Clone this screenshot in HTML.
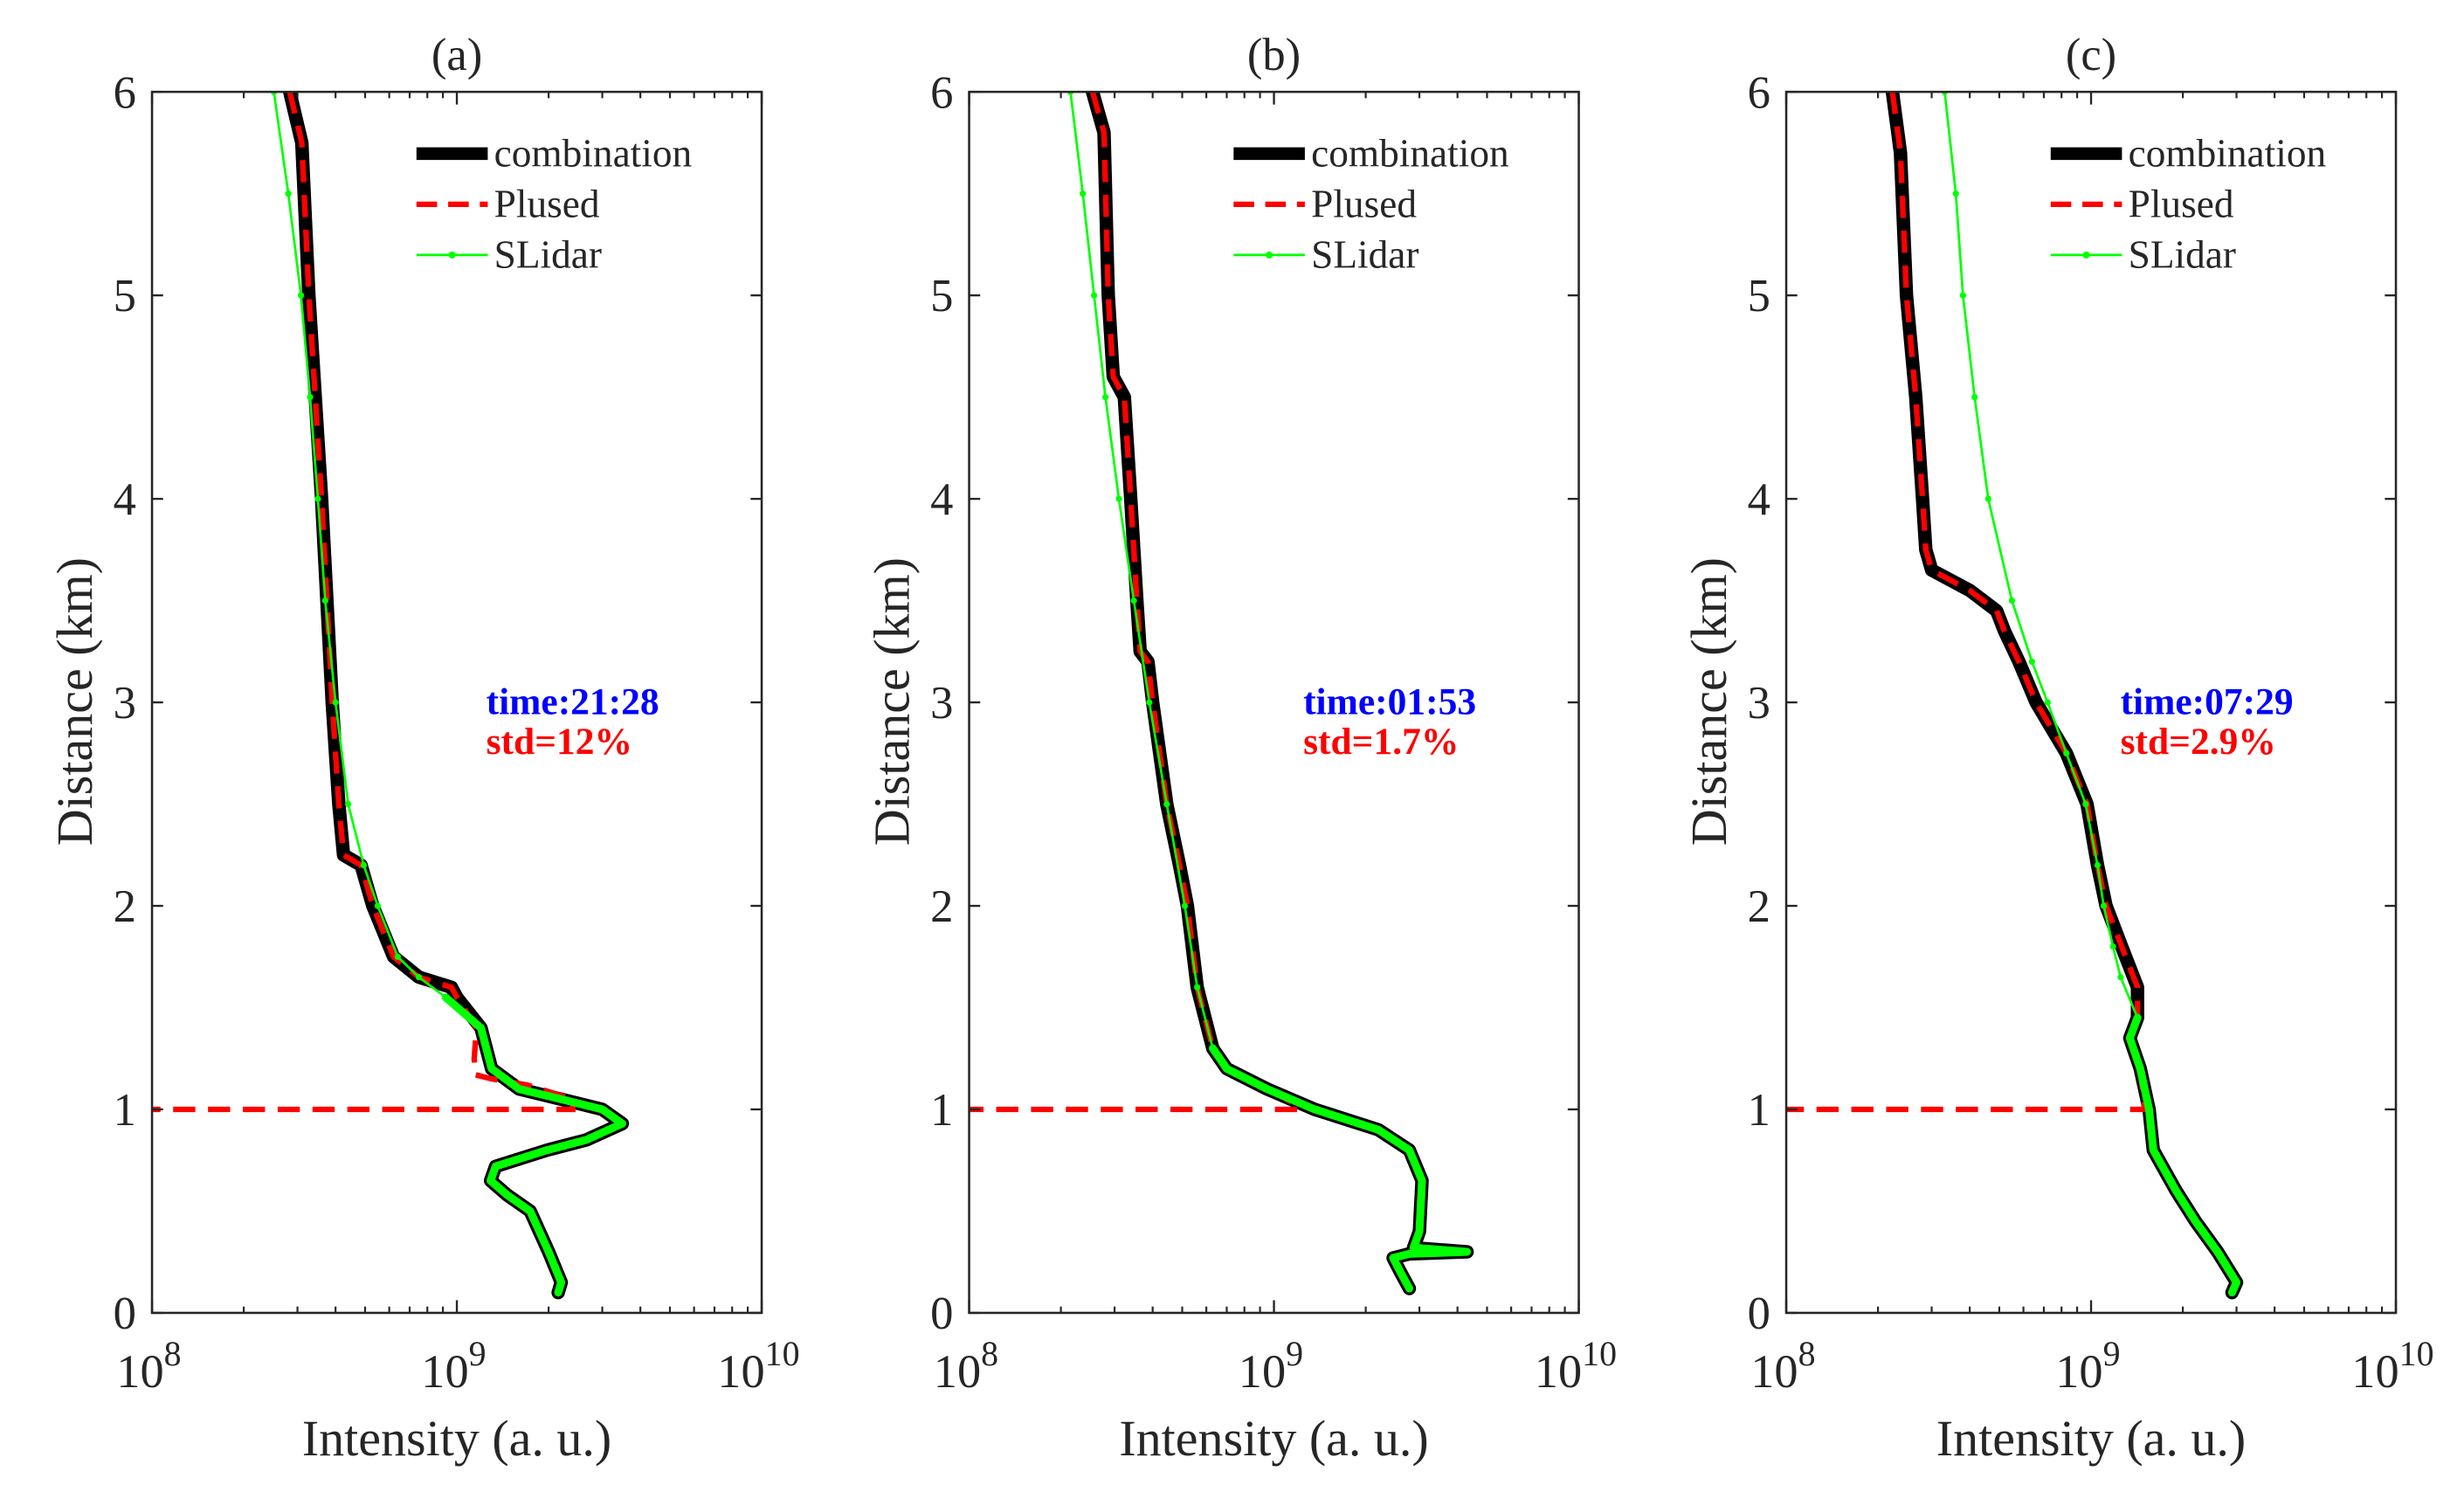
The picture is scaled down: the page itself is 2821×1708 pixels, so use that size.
<!DOCTYPE html>
<html><head><meta charset="utf-8"><style>
html,body{margin:0;padding:0;background:#fff;}
svg{display:block;}
text{font-family:"Liberation Serif",serif;fill:#262626;}
</style></head><body>
<svg id="fig" width="2821" height="1708" viewBox="0 0 1556 942.1" xmlns="http://www.w3.org/2000/svg"></svg>
<script>
// ---------- data (distance km, intensity a.u.) ----------
const titles = ["(a)", "(b)", "(c)"];
const timeLabels = ["time:21:28", "time:01:53", "time:07:29"];
const stdLabels = ["std=12%", "std=1.7%", "std=2.9%"];
const yTicks = [0,1,2,3,4,5,6];
const xMajorExp = [8,9,10];

const combA_d = [6.0,5.75,5.0,4.0,3.0,2.5,2.25,2.2,2.0,1.75,1.65,1.6,1.55,1.4,1.2,1.1,1.05,1.0,0.93,0.85,0.8,0.72,0.65,0.58,0.5,0.3,0.15,0.1];
const combA_v = [2.83e8,3.1e8,3.27e8,3.6e8,3.9e8,4.1e8,4.25e8,4.85e8,5.3e8,6.2e8,7.5e8,9.6e8,1.0e9,1.2e9,1.3e9,1.6e9,2.2e9,3.0e9,3.49e9,2.66e9,1.98e9,1.34e9,1.29e9,1.46e9,1.74e9,2.0e9,2.2e9,2.15e9];
const pulsA_d = [6.0,5.75,5.0,4.0,3.0,2.5,2.25,2.2,2.0,1.75,1.65,1.6,1.55,1.4,1.25,1.17,1.15,1.12,1.05,1.0,1.0];
const pulsA_v = [2.83e8,3.1e8,3.27e8,3.6e8,3.9e8,4.1e8,4.25e8,4.85e8,5.3e8,6.2e8,7.5e8,9.6e8,1.0e9,1.16e9,1.14e9,1.15e9,1.3e9,1.7e9,2.4e9,2.4e9,1e8];
const slidA_d = [6.0,5.5,5.0,4.5,4.0,3.5,3.0,2.5,2.2,2.0,1.75,1.65,1.55,1.4,1.2,1.1,1.05,1.0,0.93,0.85,0.8,0.72,0.65,0.58,0.5,0.3,0.15,0.1];
const slidA_v = [2.51e8,2.8e8,3.08e8,3.3e8,3.5e8,3.7e8,4.0e8,4.4e8,4.95e8,5.5e8,6.4e8,7.5e8,9.2e8,1.2e9,1.3e9,1.6e9,2.2e9,3.0e9,3.49e9,2.66e9,1.98e9,1.34e9,1.29e9,1.46e9,1.74e9,2.0e9,2.2e9,2.15e9];

const combB_d = [6.0,5.8,5.0,4.6,4.5,4.0,3.5,3.25,3.2,3.0,2.5,2.2,2.0,1.6,1.3,1.2,1.1,1.0,0.9,0.8,0.65,0.4,0.32,0.3,0.29,0.27,0.2,0.12];
const combB_v = [2.54e8,2.77e8,2.86e8,2.97e8,3.23e8,3.39e8,3.55e8,3.64e8,3.86e8,4.0e8,4.45e8,4.9e8,5.2e8,5.6e8,6.3e8,7.0e8,9.5e8,1.36e9,2.2e9,2.78e9,3.06e9,3.0e9,2.87e9,4.3e9,2.78e9,2.46e9,2.6e9,2.78e9];
const pulsB_d = [6.0,5.8,5.0,4.6,4.5,4.0,3.5,3.25,3.2,3.0,2.5,2.2,2.0,1.6,1.3,1.2,1.1,1.02,1.0,1.0];
const pulsB_v = [2.54e8,2.77e8,2.86e8,2.97e8,3.23e8,3.39e8,3.55e8,3.64e8,3.86e8,4.0e8,4.45e8,4.9e8,5.2e8,5.6e8,6.3e8,7.0e8,9.5e8,1.2e9,1.2e9,1e8];
const slidB_d = [6.0,5.5,5.0,4.5,4.0,3.5,3.0,2.5,2.0,1.6,1.3,1.2,1.1,1.0,0.9,0.8,0.65,0.4,0.32,0.3,0.29,0.27,0.2,0.12];
const slidB_v = [2.15e8,2.36e8,2.57e8,2.8e8,3.1e8,3.47e8,3.9e8,4.45e8,5.1e8,5.6e8,6.3e8,7.0e8,9.5e8,1.36e9,2.2e9,2.78e9,3.06e9,3.0e9,2.87e9,4.3e9,2.78e9,2.46e9,2.6e9,2.78e9];

const combC_d = [6.0,5.7,5.0,4.5,4.0,3.75,3.65,3.55,3.45,3.35,3.2,3.0,2.75,2.5,2.2,2.0,1.8,1.6,1.45,1.35,1.2,1.0,0.8,0.6,0.45,0.3,0.15,0.1];
const combC_v = [2.23e8,2.37e8,2.48e8,2.66e8,2.8e8,2.87e8,3.0e8,4.0e8,4.9e8,5.2e8,5.8e8,6.6e8,8.3e8,9.7e8,1.05e9,1.12e9,1.26e9,1.42e9,1.42e9,1.34e9,1.45e9,1.55e9,1.6e9,1.9e9,2.2e9,2.6e9,3.0e9,2.9e9];
const pulsC_d = [6.0,5.7,5.0,4.5,4.0,3.75,3.65,3.55,3.45,3.35,3.2,3.0,2.75,2.5,2.2,2.0,1.8,1.6,1.45,1.35,1.2,1.0,1.0];
const pulsC_v = [2.23e8,2.37e8,2.48e8,2.66e8,2.8e8,2.87e8,3.0e8,4.0e8,4.9e8,5.2e8,5.8e8,6.6e8,8.3e8,9.7e8,1.05e9,1.12e9,1.26e9,1.42e9,1.42e9,1.34e9,1.45e9,1.5e9,1e8];
const slidC_d = [6.0,5.5,5.0,4.5,4.0,3.5,3.2,3.0,2.75,2.5,2.2,2.0,1.8,1.65,1.45,1.35,1.2,1.0,0.8,0.6,0.45,0.3,0.15,0.1];
const slidC_v = [3.31e8,3.6e8,3.8e8,4.15e8,4.6e8,5.5e8,6.4e8,7.2e8,8.3e8,9.6e8,1.05e9,1.1e9,1.18e9,1.25e9,1.42e9,1.34e9,1.45e9,1.55e9,1.6e9,1.9e9,2.2e9,2.6e9,3.0e9,2.9e9];

const panels = [
 {comb:[combA_d,combA_v], puls:[pulsA_d,pulsA_v], slid:[slidA_d,slidA_v]},
 {comb:[combB_d,combB_v], puls:[pulsB_d,pulsB_v], slid:[slidB_d,slidB_v]},
 {comb:[combC_d,combC_v], puls:[pulsC_d,pulsC_v], slid:[slidC_d,slidC_v]}
];

// ---------- drawing ----------
const NS = "http://www.w3.org/2000/svg";
const svg = document.getElementById("fig");
function mk(tag, attrs, parent){ const e=document.createElementNS(NS,tag); for(const k in attrs) e.setAttribute(k,attrs[k]); (parent||svg).appendChild(e); return e; }
const lefts = [96,612,1128], W = 385, TOP = 58, BOT = 829;
const col = "#262626";

panels.forEach((p,i)=>{
  const x0 = lefts[i];
  const g = mk("g",{});
  
  
  const xs = v => x0 + (Math.log10(v)-8)/2*W;
  const ys = d => BOT - d/6*(BOT-TOP);
  const clipId = "clip"+i;
  const cp = mk("clipPath",{id:clipId},g); mk("rect",{x:x0,y:TOP,width:W,height:BOT-TOP},cp);

  const pts = (arr)=> arr[0].map((d,k)=> xs(arr[1][k]).toFixed(2)+","+ys(d).toFixed(2)).join(" ");
  const cg = mk("g",{"clip-path":"url(#"+clipId+")"},g);
  const comb = mk("polyline",{points:pts(p.comb),fill:"none",stroke:"#000","stroke-width":8.5,"stroke-linejoin":"round","stroke-linecap":"round"},cg);
  
  
  const puls = mk("polyline",{points:pts(p.puls),fill:"none",stroke:"#ff0000","stroke-width":3.5,"stroke-dasharray":"14,8"},cg);
  
  
  const sl = mk("polyline",{points:pts(p.slid),fill:"none",stroke:"#00ff00","stroke-width":1.5,"stroke-linejoin":"round"},cg);
  
  
  const lowD = [], lowV = [];
  p.slid[0].forEach((d,k)=>{ if(d<=1.55){ lowD.push(d); lowV.push(p.slid[1][k]); } });
  const low = mk("polyline",{points:pts([lowD,lowV]),fill:"none",stroke:"#00ff00","stroke-width":5,"stroke-linejoin":"round","stroke-linecap":"round"},cg);
  
  
  p.slid[0].forEach((d,k)=>{
    const c = mk("circle",{cx:xs(p.slid[1][k]),cy:ys(d),r:2,fill:"#00ff00"},cg);
    
    
  });

  const box = mk("rect",{x:x0,y:TOP,width:W,height:BOT-TOP,fill:"none",stroke:col,"stroke-width":1.4},g);
  
  
  yTicks.forEach(t=>{
    const y = ys(t);
    mk("line",{x1:x0,x2:x0+7,y1:y,y2:y,stroke:col,"stroke-width":1.3},g);
    mk("line",{x1:x0+W-7,x2:x0+W,y1:y,y2:y,stroke:col,"stroke-width":1.3},g);
    const tl = mk("text",{x:x0-10,y:y+10,"font-size":29,"text-anchor":"end"},g);
    tl.textContent = t;
    
    
  });
  [8,9].forEach(e=>{
    for(let m=2;m<=9;m++){
      const x = xs(m*Math.pow(10,e));
      mk("line",{x1:x,x2:x,y1:BOT,y2:BOT-4,stroke:col,"stroke-width":1.2},g);
      mk("line",{x1:x,x2:x,y1:TOP,y2:TOP+4,stroke:col,"stroke-width":1.2},g);
    }
  });
  xMajorExp.forEach(e=>{
    const x = xs(Math.pow(10,e));
    mk("line",{x1:x,x2:x,y1:BOT,y2:BOT-8,stroke:col,"stroke-width":1.3},g);
    mk("line",{x1:x,x2:x,y1:TOP,y2:TOP+8,stroke:col,"stroke-width":1.3},g);
    const tl = mk("text",{x:x-2,y:876,"font-size":30,"text-anchor":"middle"},g);
    
    
    tl.appendChild(document.createTextNode("10"));
    const sup = mk("tspan",{dy:-14,"font-size":22},tl); sup.textContent = e;
  });
  const xl = mk("text",{x:x0+W/2,y:919,"font-size":32,"text-anchor":"middle"},g);
  xl.textContent = "Intensity (a. u.)";
  
  
  const yl = mk("text",{x:0,y:0,"font-size":32,"text-anchor":"middle",transform:`translate(${x0-38},${443}) rotate(-90)`},g);
  yl.textContent = "Distance (km)";
  
  
  const tt = mk("text",{x:x0+W/2,y:44,"font-size":29,"text-anchor":"middle"},g);
  tt.textContent = titles[i];
  
  
  const an1 = mk("text",{x:x0+211,y:451,"font-size":24,"font-weight":"bold",style:"fill:#0000ff"},g);
  an1.textContent = timeLabels[i];
  
  
  const an2 = mk("text",{x:x0+211,y:476,"font-size":24,"font-weight":"bold",style:"fill:#ff0000"},g);
  an2.textContent = stdLabels[i];
  
  
  const lg = mk("g",{},g);
  
  
  const lx = x0+167;
  const names = ["combination","Plused","SLidar"];
  names.forEach((n,k)=>{
    const y = 97 + k*32;
    let ln;
    if(k===0) ln = mk("line",{x1:lx,x2:lx+45,y1:y,y2:y,stroke:"#000","stroke-width":8},lg);
    if(k===1) ln = mk("line",{x1:lx,x2:lx+45,y1:y,y2:y,stroke:"#ff0000","stroke-width":3.5,"stroke-dasharray":"13,7"},lg);
    if(k===2){ ln = mk("line",{x1:lx,x2:lx+45,y1:y,y2:y,stroke:"#00ff00","stroke-width":1.5},lg); mk("circle",{cx:lx+22.5,cy:y,r:2.2,fill:"#00ff00"},lg); }
    
    
    const t = mk("text",{x:lx+49,y:y+8,"font-size":25},lg);
    t.textContent = n;
    
    
  });
});
</script>
</body></html>
